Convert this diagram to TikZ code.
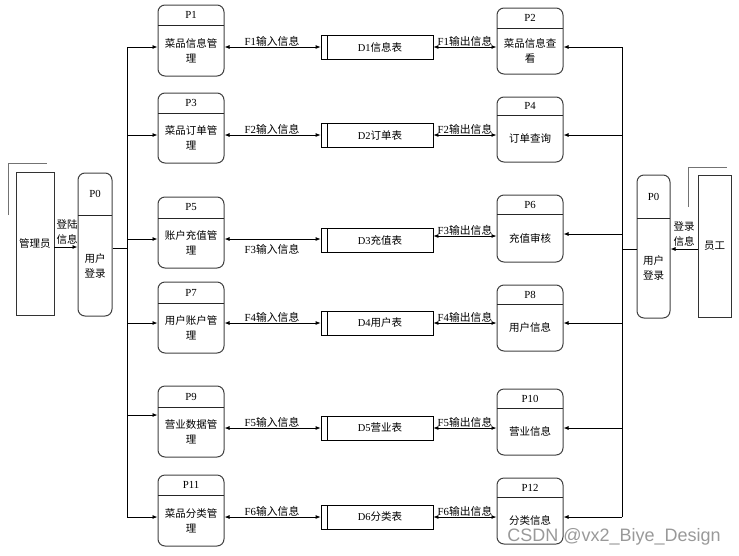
\documentclass[tikz,border=0pt]{standalone}
\usepackage{fontspec}
\setmainfont{Liberation Serif}
\newfontfamily\cjk{Noto Sans CJK SC}
\newfontfamily\wmfont{Liberation Sans}
\usetikzlibrary{arrows.meta}

\tikzset{
 procbox/.style={draw=black!75, line width=1pt, rounded corners=7pt, inner sep=0pt},
 divline/.style={draw=black!85, line width=0.9pt},
 storebox/.style={draw=black, line width=0.8pt, inner sep=0pt},
 ext/.style={draw=black!80, line width=0.8pt, inner sep=0pt},
 extshadow/.style={draw=black!55, line width=0.9pt},
 bus/.style={draw=black, line width=0.8pt},
 arr/.style={bus, -{Latex[length=5pt,width=4pt]}},
 darr/.style={bus, {Latex[length=5pt,width=4pt]}-{Latex[length=5pt,width=4pt]}},
 ttl/.style={font=\fontsize{10.8}{12}\selectfont, inner sep=0pt},
 body/.style={font=\cjk\fontsize{10.5}{15}\selectfont, align=center, inner sep=0pt},
 flab/.style={font=\fontsize{10.8}{12}\selectfont, inner sep=0.8pt},
}

\newcommand\proc[8]{%
 \node[procbox, minimum width={#3-#2}, minimum height={#6-#4}] (#1) at ({(#2+#3)/2},{(#4+#6)/2}) {};
 \draw[divline] (#2,#5) -- (#3,#5);
 \node[ttl] (#1t) at ({(#2+#3)/2},{(#4+#5)/2}) {#7};
 \node[body] (#1b) at ({(#2+#3)/2},{(#5+#6)/2}) {#8};
}
\newcommand\store[3]{%
 \node[storebox, minimum width=112, minimum height=24] (#1) at (377,#2) {};
 \draw[storebox] (327,{#2-12}) -- (327,{#2+12});
 \node[body] (#1t) at (380,#2) {#3};
}

\begin{document}
\begin{tikzpicture}[x=1pt,y=-1pt]
\useasboundingbox (0,0) rectangle (739,555);

% left processes
\proc{p1}{158}{224}{5}{25}{76}{P1}{菜品信息管\\理}
\proc{p3}{158}{224}{93}{113}{163}{P3}{菜品订单管\\理}
\proc{p5}{158}{224}{197}{218}{268}{P5}{账户充值管\\理}
\proc{p7}{158}{224}{282}{303}{353}{P7}{用户账户管\\理}
\proc{p9}{158}{224}{386}{407}{457}{P9}{营业数据管\\理}
\proc{p11}{158}{224}{475}{495}{546}{P11}{菜品分类管\\理}

% right processes
\proc{p2}{497}{563}{8}{28}{74}{P2}{菜品信息查\\看}
\proc{p4}{497}{563}{97}{115}{162}{P4}{订单查询}
\proc{p6}{497}{563}{195}{214}{262}{P6}{充值审核}
\proc{p8}{497}{563}{285}{304}{351}{P8}{用户信息}
\proc{p10}{497}{563}{389}{408}{455}{P10}{营业信息}
\proc{p12}{497}{563}{478}{497}{544}{P12}{分类信息}

% P0 boxes
\proc{p0l}{78}{112}{173}{215}{316}{P0}{用户\\登录}
\proc{p0r}{637}{670}{175}{218}{318}{P0}{用户\\登录}

% data stores
\store{d1}{47}{{\rmfamily D1}信息表}
\store{d2}{135}{{\rmfamily D2}订单表}
\store{d3}{240}{{\rmfamily D3}充值表}
\store{d4}{323}{{\rmfamily D4}用户表}
\store{d5}{428}{{\rmfamily D5}营业表}
\store{d6}{517}{{\rmfamily D6}分类表}

% external entities
\draw[extshadow] (8,215) -- (8,163) -- (47,163);
\node[ext, body, minimum width=38, minimum height=143] (adm) at (35,243.5) {管理员};
\draw[extshadow] (688,207) -- (688,167) -- (727,167);
\node[ext, body, minimum width=33, minimum height=142] (emp) at (714.5,246) {员工};

\draw[arr] (adm.east |- 0,247) -- (p0l.west |- 0,247);
\node[body] (lgl) at (67,232) {登陆\\信息};
\draw[arr] (emp.west |- 0,249) -- (p0r.east |- 0,249);
\node[body] (lgr) at (684,234) {登录\\信息};

% buses
\coordinate (lbt) at (127,47);
\coordinate (lbb) at (127,517);
\draw[bus] (lbt) -- (lbb);
\coordinate (lbc) at (127,248);
\draw[bus] (p0l.east |- lbc) -- (lbc);
\coordinate (rbt) at (622,47);
\coordinate (rbb) at (622,517);
\draw[bus] (rbt) -- (rbb);
\coordinate (rbc) at (622,249);
\draw[bus] (rbc) -- (p0r.west |- rbc);

% left bus arrows
\foreach \n/\yy in {p1/47, p3/135, p5/239, p7/323, p9/415, p11/517}{
  \coordinate (lb\n) at (127,\yy);
  \draw[arr] (lb\n) -- (lb\n -| \n.west);
}
% right bus arrows
\foreach \n/\yy in {p2/47, p4/135, p6/234, p8/323, p10/428, p12/517}{
  \coordinate (rb\n) at (622,\yy);
  \draw[arr] (rb\n) -- (rb\n -| \n.east);
}

% left data flows
\draw[darr] (p1.east |- d1) -- (d1.west);
\draw[darr] (p3.east |- d2) -- (d2.west);
\draw[darr] ([yshift=1pt]p5.east |- d3) -- ([yshift=1pt]d3.west);
\draw[darr] (p7.east |- d4) -- (d4.west);
\draw[darr] (p9.east |- d5) -- (d5.west);
\draw[darr] (p11.east |- d6) -- (d6.west);

\node[flab, anchor=south] (f1i) at (272,47) {F1\cjk 输入信息};
\node[flab, anchor=south] (f2i) at (272,135) {F2\cjk 输入信息};
\node[flab, anchor=north] (f3i) at (272,243) {F3\cjk 输入信息};
\node[flab, anchor=south] (f4i) at (272,323) {F4\cjk 输入信息};
\node[flab, anchor=south] (f5i) at (272,428) {F5\cjk 输入信息};
\node[flab, anchor=south] (f6i) at (272,517) {F6\cjk 输入信息};

% right data flows
\draw[darr] (d1.east) -- (d1.east -| p2.west);
\draw[darr] (d2.east) -- (d2.east -| p4.west);
\draw[darr] ([yshift=4pt]d3.east) -- ([yshift=4pt]d3.east -| p6.west);
\draw[darr] (d4.east) -- (d4.east -| p8.west);
\draw[darr] (d5.east) -- (d5.east -| p10.west);
\draw[darr] (d6.east) -- (d6.east -| p12.west);

\node[flab, anchor=south] (f1o) at (465,47) {F1\cjk 输出信息};
\node[flab, anchor=south] (f2o) at (465,135) {F2\cjk 输出信息};
\node[flab, anchor=south] (f3o) at (465,236) {F3\cjk 输出信息};
\node[flab, anchor=south] (f4o) at (465,323) {F4\cjk 输出信息};
\node[flab, anchor=south] (f5o) at (465,428) {F5\cjk 输出信息};
\node[flab, anchor=south] (f6o) at (465,517) {F6\cjk 输出信息};

% watermark
\node[font=\wmfont\fontsize{18}{18}\selectfont, text=black!40, inner sep=0pt] (wm) at (614,537) {CSDN @vx2\_Biye\_Design};
\end{tikzpicture}
\end{document}
